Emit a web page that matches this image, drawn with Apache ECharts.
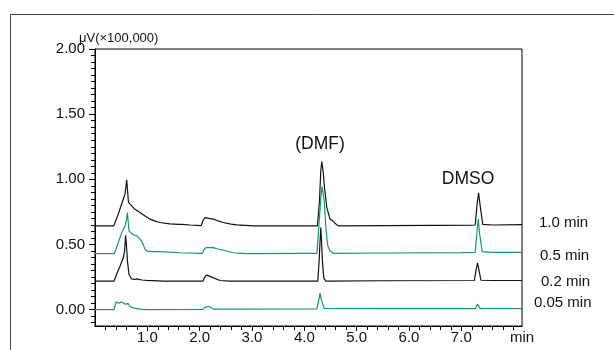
<!DOCTYPE html>
<html>
<head>
<meta charset="utf-8">
<script src="https://cdn.jsdelivr.net/npm/echarts@6/dist/echarts.min.js"></script>
<style>
html,body{margin:0;padding:0;background:#fff;}
#c{width:614px;height:350px;}
</style>
</head>
<body>
<div id="c"></div>
<script>
// ---- data (time in min, signal in µV ×100,000) ----
var seriesNames = ['1.0 min', '0.5 min', '0.2 min', '0.05 min'];
var seriesColors = ['#111111', '#14976f', '#111111', '#14976f'];

var s10 = [[0,0.643],[0.36,0.643],[0.45,0.74],[0.53,0.836],[0.574,0.888],[0.606,0.996],[0.64,0.823],[0.67,0.81],[0.75,0.775],[0.86,0.746],[0.95,0.72],[1.05,0.695],[1.15,0.68],[1.24,0.669],[1.43,0.659],[1.6,0.655],[1.63,0.664],[1.66,0.655],[1.82,0.65],[2.03,0.645],[2.06,0.68],[2.1,0.707],[2.18,0.70],[2.26,0.695],[2.35,0.682],[2.45,0.669],[2.6,0.657],[2.71,0.651],[3.03,0.643],[3.5,0.643],[4.0,0.643],[4.25,0.643],[4.29,0.836],[4.315,1.068],[4.334,1.137],[4.36,1.06],[4.385,0.939],[4.43,0.785],[4.49,0.695],[4.52,0.69],[4.545,0.682],[4.59,0.661],[4.65,0.643],[5.5,0.645],[6.5,0.647],[7.2,0.648],[7.266,0.65],[7.30,0.80],[7.33,0.896],[7.36,0.80],[7.41,0.655],[7.6,0.65],[8.16,0.652]];

var s05 = [[0,0.43],[0.37,0.43],[0.45,0.52],[0.51,0.59],[0.574,0.643],[0.60,0.69],[0.618,0.746],[0.65,0.605],[0.73,0.575],[0.80,0.566],[0.85,0.545],[0.89,0.527],[0.93,0.49],[0.956,0.463],[1.0,0.45],[1.1,0.446],[1.24,0.445],[1.63,0.437],[2.05,0.432],[2.08,0.46],[2.12,0.476],[2.26,0.476],[2.35,0.466],[2.45,0.456],[2.64,0.437],[2.9,0.43],[4.0,0.432],[4.24,0.432],[4.29,0.707],[4.315,0.862],[4.34,0.944],[4.38,0.836],[4.416,0.605],[4.45,0.489],[4.49,0.45],[4.56,0.432],[5.5,0.435],[7.0,0.438],[7.266,0.44],[7.30,0.60],[7.323,0.695],[7.35,0.58],[7.40,0.445],[7.6,0.44],[8.16,0.44]];

var s02 = [[0,0.219],[0.363,0.219],[0.42,0.28],[0.478,0.334],[0.54,0.398],[0.565,0.45],[0.586,0.571],[0.60,0.50],[0.62,0.373],[0.65,0.27],[0.70,0.236],[0.76,0.232],[0.80,0.236],[0.83,0.228],[0.9,0.228],[0.99,0.225],[1.31,0.219],[2.06,0.219],[2.09,0.245],[2.13,0.265],[2.23,0.25],[2.39,0.224],[2.58,0.219],[4.258,0.219],[4.283,0.373],[4.30,0.52],[4.315,0.63],[4.33,0.52],[4.346,0.373],[4.372,0.244],[4.41,0.219],[5.5,0.222],[7.25,0.224],[7.28,0.30],[7.31,0.36],[7.34,0.30],[7.375,0.226],[7.6,0.224],[8.16,0.224]];

var s005 = [[0,0],[0.363,0],[0.40,0.059],[0.445,0.051],[0.475,0.062],[0.51,0.059],[0.54,0.048],[0.57,0.043],[0.606,0.033],[0.637,0.046],[0.67,0.025],[0.70,0.033],[0.746,0.012],[0.86,0.005],[0.99,0],[2.06,0.002],[2.10,0.018],[2.17,0.025],[2.26,0.005],[2.5,0.004],[4.24,0.006],[4.28,0.08],[4.30,0.128],[4.33,0.07],[4.38,0.01],[5.5,0.008],[7.27,0.008],[7.31,0.043],[7.36,0.01],[8.16,0.008]];

var xLabelValues = [1, 2, 3, 4, 5, 6, 7];
var yLabelValues = [0, 0.5, 1.0, 1.5, 2.0];
var peakNames = ['(DMF)', 'DMSO'];
var peakX = [4.30, 7.13];
var peakY = [1.272, 1.0];

var xMin = 0, xMax = 8.16, yMin = -0.125, yMax = 2.0;

var xMinor = [];
for (var i = 1; i <= 40; i++) xMinor.push(+(i * 0.2).toFixed(2));
var yMinor = [];
for (var j = -2; j <= 40; j++) yMinor.push(+(j * 0.05).toFixed(2));

var FONT = '"Liberation Sans", Arial, sans-serif';
var endOffsets = [[0, -2], [0, 4], [0, 1], [0, -6]];
var endDist = [17, 18, 19, 12];
var allData = [s10, s05, s02, s005];

var series = allData.map(function (d, k) {
  return {
    type: 'line',
    name: seriesNames[k],
    data: d,
    xAxisIndex: 0,
    yAxisIndex: 0,
    symbol: 'none',
    lineStyle: { color: seriesColors[k], width: 1.2 },
    z: 3 + k,
    endLabel: {
      show: true,
      formatter: seriesNames[k],
      distance: endDist[k],
      offset: endOffsets[k],
      fontFamily: FONT,
      fontSize: 15,
      color: '#111'
    }
  };
});
series[0].markPoint = {
  symbol: 'circle',
  symbolSize: 0,
  silent: true,
  label: {
    show: true, position: 'inside', fontFamily: FONT, fontSize: 17.5, color: '#111',
    formatter: function (p) { return p.name; }
  },
  data: peakNames.map(function (n, i) { return { name: n, coord: [peakX[i], peakY[i]] }; })
};

var chart = echarts.init(document.getElementById('c'), null, { renderer: 'canvas' });
chart.setOption({
  animation: false,
  backgroundColor: '#fff',
  title: {
    text: 'μV(×100,000)', left: 79, top: 32, padding: 0,
    textStyle: { fontFamily: FONT, fontSize: 13, fontWeight: 'normal', color: '#111' }
  },
  graphic: [{
    type: 'rect', silent: true,
    shape: { x: 10.5, y: 14.5, width: 700, height: 400 },
    style: { fill: 'none', stroke: '#444', lineWidth: 1 }
  }],
  grid: { left: 95, right: 92, top: 49, bottom: 24, show: true, borderColor: '#000', borderWidth: 1, backgroundColor: 'transparent' },
  xAxis: [{
    type: 'value', min: xMin, max: xMax, position: 'bottom',
    name: 'min', nameLocation: 'end', nameGap: 0,
    nameTextStyle: { fontFamily: FONT, fontSize: 15, color: '#111', align: 'center', verticalAlign: 'top', padding: [4, 0, 0, 0] },
    axisLine: { show: true, onZero: false, lineStyle: { color: '#000', width: 1 } },
    axisTick: { show: true, customValues: xLabelValues, length: 5, lineStyle: { color: '#000' } },
    axisLabel: { show: true, customValues: xLabelValues, margin: 4, fontFamily: FONT, fontSize: 15, color: '#111',
      formatter: function (v) { return v.toFixed(1); } },
    splitLine: { show: false }
  }, {
    type: 'value', min: xMin, max: xMax, position: 'bottom',
    axisLine: { show: false, onZero: false },
    axisTick: { show: true, customValues: xMinor, length: 4, lineStyle: { color: '#000' } },
    axisLabel: { show: false },
    splitLine: { show: false }
  }],
  yAxis: [{
    type: 'value', min: yMin, max: yMax, position: 'left',
    axisLine: { show: true, onZero: false, lineStyle: { color: '#000', width: 1 } },
    axisTick: { show: true, customValues: yLabelValues, length: 6, lineStyle: { color: '#000' } },
    axisLabel: { show: true, customValues: yLabelValues, margin: 10, fontFamily: FONT, fontSize: 15, color: '#111',
      formatter: function (v) { return v.toFixed(2); } },
    splitLine: { show: false }
  }, {
    type: 'value', min: yMin, max: yMax, position: 'left',
    axisLine: { show: false, onZero: false },
    axisTick: { show: true, customValues: yMinor, length: 4, lineStyle: { color: '#000' } },
    axisLabel: { show: false },
    splitLine: { show: false }
  }],
  series: series
});
</script>
</body>
</html>
